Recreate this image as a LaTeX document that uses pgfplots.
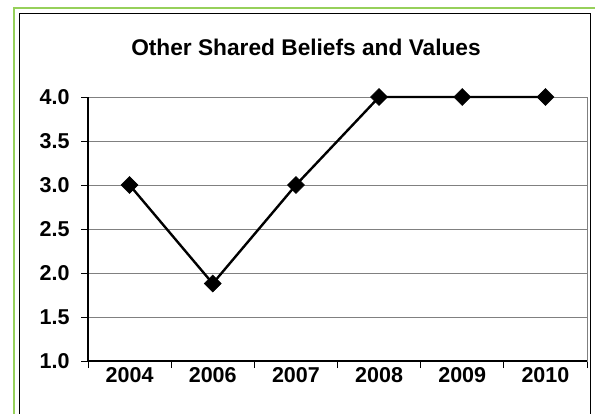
\documentclass[border=0pt]{standalone}
\usepackage{fontspec}
\setmainfont{Liberation Sans}
\usepackage{pgfplots}
\pgfplotsset{compat=1.18}
\definecolor{bordergreen}{RGB}{150,208,90}
\definecolor{gridgray}{RGB}{128,128,128}
\newcommand{\lbl}{\fontsize{21.5}{24}\selectfont\bfseries}
\begin{document}
\begin{tikzpicture}
\useasboundingbox (0,0) rectangle (595pt,413pt);
\begin{scope}
\clip (0,0) rectangle (595pt,413pt);
\draw[bordergreen, line width=2.5pt] (14pt,-20pt) -- (14pt,405pt) -- (620pt,405pt);
\draw[black, line width=1.1pt] (19.5pt,-20pt) -- (19.5pt,399.5pt) -- (590.5pt,399.5pt) -- (590.5pt,-20pt);
\end{scope}
\node[font=\fontsize{22.7}{26}\selectfont\bfseries, anchor=center] at (306pt,366pt) {Other Shared Beliefs and Values};
\begin{axis}[
  at={(88pt,52pt)}, anchor=south west,
  scale only axis, width=499pt, height=264pt,
  xmin=-0.5, xmax=5.5, ymin=1, ymax=4,
  xtick={0,1,2,3,4,5},
  xticklabels={2004,2006,2007,2008,2009,2010},
  minor xtick={-0.5,0.5,1.5,2.5,3.5,4.5,5.5},
  ytick={1,1.5,2,2.5,3,3.5,4},
  yticklabel style={xshift=-8pt, /pgf/number format/.cd, fixed, fixed zerofill, precision=1},
  /pgf/number format/assume math mode=true,
  tick label style={font=\lbl},
  xticklabel style={yshift=4pt},
  tick align=outside,
  major tick length=7pt, minor tick length=7pt,
  major x tick style={draw=none},
  minor x tick style={draw=black, line width=0.9pt},
  ytick style={draw=black, line width=0.9pt},
  xtick pos=bottom, ytick pos=left,
  ymajorgrids, grid style={gridgray, line width=0.9pt},
  axis line style={gridgray, line width=0.9pt},
  clip=false,
]
\addplot[black, line width=2.4pt, mark=square*, mark size=6pt, mark options={rotate=45, solid, fill=black, line width=0.5pt}]
  coordinates {(0,3.0) (1,1.88) (2,3.0) (3,4.0) (4,4.0) (5,4.0)};
\draw[black, line width=1.1pt] (rel axis cs:0,1) -- (rel axis cs:0,0) -- (rel axis cs:1,0);
\end{axis}
\end{tikzpicture}
\end{document}
